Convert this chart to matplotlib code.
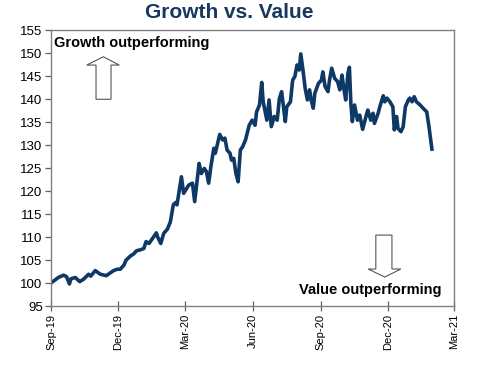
import matplotlib
matplotlib.use("Agg")
import matplotlib.pyplot as plt
from matplotlib.patches import Polygon
import pandas as pd

plt.rcParams['font.family'] = ['Liberation Sans', 'DejaVu Sans']

dates = [
    "2019-09-01", "2019-09-11", "2019-09-18", "2019-09-22", "2019-09-26", "2019-09-28",
    "2019-10-04", "2019-10-10", "2019-10-15", "2019-10-22", "2019-10-25", "2019-10-31",
    "2019-11-07", "2019-11-15", "2019-11-25", "2019-11-30", "2019-12-04", "2019-12-09",
    "2019-12-12", "2019-12-18", "2019-12-22", "2019-12-26", "2019-12-31", "2020-01-05",
    "2020-01-08", "2020-01-12", "2020-01-16", "2020-01-22", "2020-01-24", "2020-01-28",
    "2020-02-01", "2020-02-06", "2020-02-10", "2020-02-14", "2020-02-17", "2020-02-19",
    "2020-02-25", "2020-02-28", "2020-03-06", "2020-03-11", "2020-03-14", "2020-03-20",
    "2020-03-23", "2020-03-27", "2020-03-30", "2020-04-02", "2020-04-05", "2020-04-09",
    "2020-04-11", "2020-04-17", "2020-04-21", "2020-04-24", "2020-04-27", "2020-05-01",
    "2020-05-03", "2020-05-06", "2020-05-09", "2020-05-12", "2020-05-15", "2020-05-18",
    "2020-05-22", "2020-05-27", "2020-05-31", "2020-06-04", "2020-06-06", "2020-06-10",
    "2020-06-13", "2020-06-15", "2020-06-20", "2020-06-23", "2020-06-26", "2020-06-30",
    "2020-07-04", "2020-07-07", "2020-07-10", "2020-07-15", "2020-07-17", "2020-07-22",
    "2020-07-25", "2020-07-28", "2020-07-31", "2020-08-03", "2020-08-05", "2020-08-08",
    "2020-08-11", "2020-08-14", "2020-08-17", "2020-08-19", "2020-08-22", "2020-08-24",
    "2020-08-29", "2020-09-02", "2020-09-04", "2020-09-07", "2020-09-11", "2020-09-13",
    "2020-09-16", "2020-09-20", "2020-09-24", "2020-09-27", "2020-09-30", "2020-10-02",
    "2020-10-05", "2020-10-08", "2020-10-10", "2020-10-12", "2020-10-14", "2020-10-17",
    "2020-10-21", "2020-10-24", "2020-10-28", "2020-11-02", "2020-11-04", "2020-11-08",
    "2020-11-11", "2020-11-13", "2020-11-18", "2020-11-21", "2020-11-25", "2020-11-27",
    "2020-11-30", "2020-12-04", "2020-12-08", "2020-12-10", "2020-12-13", "2020-12-15",
    "2020-12-19", "2020-12-22", "2020-12-25", "2020-12-29", "2020-12-31", "2021-01-03",
    "2021-01-06", "2021-01-09", "2021-01-14", "2021-01-18", "2021-01-23", "2021-01-26",
    "2021-01-30",
]
values = [
    100.0, 101.2, 101.7, 101.4, 99.8, 100.9,
    101.2, 100.3, 100.8, 101.9, 101.5, 102.7,
    101.9, 101.6, 102.7, 103.0, 103.0, 103.9,
    105.0, 105.9, 106.3, 107.0, 107.2, 107.5,
    109.0, 108.6, 109.5, 110.9, 109.9, 108.6,
    110.8, 111.7, 113.3, 117.0, 117.5, 117.0,
    123.1, 119.5, 121.3, 121.7, 117.7, 126.0,
    123.8, 124.9, 124.2, 121.7, 125.3, 129.3,
    128.2, 132.3, 131.1, 131.5, 128.9, 128.2,
    126.7, 127.1, 123.8, 122.0, 128.9, 129.6,
    131.1, 134.3, 135.4, 134.3, 137.2, 138.7,
    143.6, 139.4, 135.4, 139.8, 134.0, 136.2,
    135.4, 140.1, 141.6, 135.1, 138.3, 139.4,
    144.1, 144.9, 147.4, 146.3, 149.8, 146.3,
    142.3, 139.8, 142.0, 139.8, 138.0, 141.2,
    143.4, 144.1, 145.9, 142.7, 141.6, 144.1,
    146.7, 144.5, 143.8, 142.0, 145.2, 142.7,
    139.8, 145.6, 146.9, 139.1, 135.1, 138.7,
    135.4, 136.5, 133.4, 136.5, 137.6, 135.4,
    136.9, 134.7, 136.9, 138.7, 140.7, 139.4,
    140.2, 139.4, 138.3, 133.3, 136.2, 133.6,
    132.9, 134.0, 138.3, 139.8, 140.2, 139.4,
    140.5, 139.4, 138.7, 138.0, 137.2, 134.0,
    129.1,
]
tick_dates = ["2019-09-01", "2019-12-01", "2020-03-01", "2020-06-01",
              "2020-09-01", "2020-12-01", "2021-03-01"]
tick_labels = ["Sep-19", "Dec-19", "Mar-20", "Jun-20", "Sep-20", "Dec-20", "Mar-21"]
y_ticks = list(range(95, 156, 5))

title = "Growth vs. Value"
label_up = "Growth outperforming"
label_down = "Value outperforming"

x = pd.to_datetime(dates)
fig = plt.figure(figsize=(5.03, 3.66), dpi=100)
ax = fig.add_axes([0.1014, 0.1639, 0.8012, 0.7541])

ax.plot(x, values, color="#0E3866", lw=2.6, solid_joinstyle="round")

ax.set_xlim(pd.Timestamp(tick_dates[0]), pd.Timestamp(tick_dates[-1]))
ax.set_ylim(95, 155)
ax.set_yticks(y_ticks)
ax.set_xticks(pd.to_datetime(tick_dates))
ax.set_xticklabels(tick_labels, rotation=90, fontsize=8)
ax.tick_params(axis='y', labelsize=9.5, direction='out', length=4, width=0.9,
               color='#606060', pad=2)
ax.tick_params(axis='x', direction='inout', length=7, width=0.9,
               color='#606060', pad=2)
for s in ax.spines.values():
    s.set_color('#808080')
    s.set_linewidth(1.0)

fig.text(0.456, 0.95, title, ha='center', va='baseline', fontsize=15,
         fontweight='bold', color='#17375E')

ax.text(0.008, 0.953, label_up, transform=ax.transAxes, ha='left',
        va='center', fontsize=10.5, fontweight='bold', color='black')
ax.text(0.970, 0.058, label_down, transform=ax.transAxes, ha='right',
        va='center', fontsize=10.5, fontweight='bold', color='black')

up = Polygon([(0.1117, 0.749), (0.1489, 0.749), (0.1489, 0.873), (0.1695, 0.873),
              (0.1298, 0.903), (0.0886, 0.873), (0.1117, 0.873)],
             closed=True, transform=ax.transAxes, facecolor='white',
             edgecolor='#555555', lw=0.8)
down = Polygon([(0.806, 0.257), (0.846, 0.257), (0.846, 0.134), (0.868, 0.134),
                (0.828, 0.105), (0.787, 0.134), (0.806, 0.134)],
               closed=True, transform=ax.transAxes, facecolor='white',
               edgecolor='#555555', lw=0.8)
ax.add_patch(up)
ax.add_patch(down)

fig.savefig("out.png", dpi=100)
